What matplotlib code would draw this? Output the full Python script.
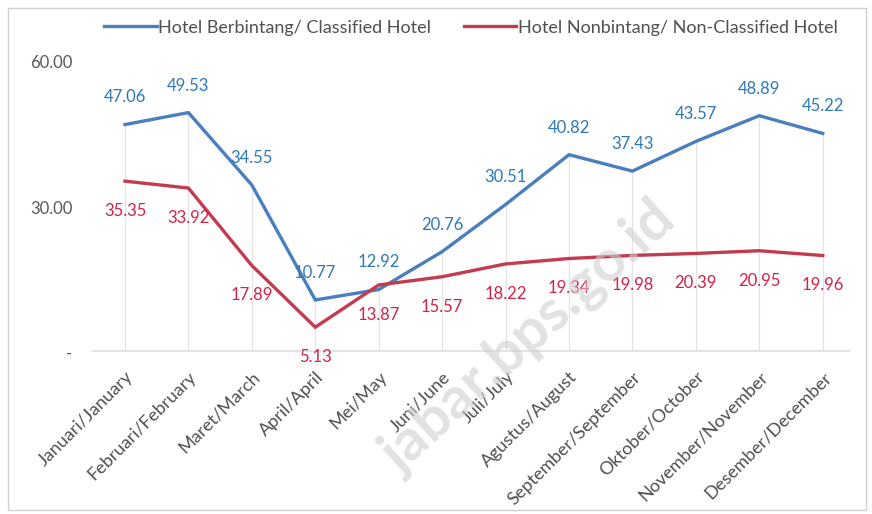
import matplotlib
matplotlib.use("Agg")
import matplotlib.pyplot as plt
from matplotlib.patches import Rectangle

plt.rcParams['font.family'] = ['Lato', 'DejaVu Sans']

months = ["Januari/January", "Februari/February", "Maret/March", "April/April",
          "Mei/May", "Juni/June", "Juli/July", "Agustus/August",
          "September/September", "Oktober/October", "November/November",
          "Desember/December"]
classified = [47.06, 49.53, 34.55, 10.77, 12.92, 20.76, 30.51, 40.82, 37.43, 43.57, 48.89, 45.22]
non_classified = [35.35, 33.92, 17.89, 5.13, 13.87, 15.57, 18.22, 19.34, 19.98, 20.39, 20.95, 19.96]
series_names = ["Hotel Berbintang/ Classified Hotel", "Hotel Nonbintang/ Non-Classified Hotel"]
yticks = [0, 30, 60]
ytick_labels = ["-", "30.00", "60.00"]

W, H = 872, 514
fig = plt.figure(figsize=(W / 100, H / 100), dpi=100)
fig.patch.set_facecolor("white")
fig.add_artist(Rectangle((8 / W, 4 / H), (W - 14) / W, (H - 12) / H, transform=fig.transFigure,
                         fill=False, edgecolor="#d0d0d0", linewidth=1.0))

# watermark
fig.text(528 / W, 1 - 338 / H, "jabar.bps.go.id", rotation=42, ha="center", va="center",
         fontsize=42, fontweight="bold", color="#cfcfcf", alpha=0.6, zorder=0)

ax = fig.add_axes([92 / W, 1 - 352 / H, (850 - 92) / W, (352 - 62) / H])
ax.patch.set_alpha(0)
x = list(range(len(months)))

blue_line = "#4a7ebf"
red_line = "#c23b4e"
blue_text = "#2e78b8"
red_text = "#d22346"

# faint drop lines
for xi, a, b in zip(x, classified, non_classified):
    ax.vlines(xi, 0, max(a, b), color="#e4e4e4", linewidth=0.9, zorder=1)

ax.plot(x, classified, color=blue_line, linewidth=2.4, label=series_names[0], zorder=3,
        solid_joinstyle="miter")
ax.plot(x, non_classified, color=red_line, linewidth=2.4, label=series_names[1], zorder=3,
        solid_joinstyle="miter")

for xi, v in zip(x, classified):
    ax.annotate(f"{v:.2f}", (xi, v), xytext=(0, 19.5), textcoords="offset points",
                ha="center", va="center", color=blue_text, fontsize=12, zorder=4)
for xi, v in zip(x, non_classified):
    ax.annotate(f"{v:.2f}", (xi, v), xytext=(0, -21.5), textcoords="offset points",
                ha="center", va="center", color=red_text, fontsize=12, zorder=4)

ax.set_xlim(-0.52, 11.43)
ax.set_ylim(0, 60)
ax.set_yticks(yticks)
ax.set_yticklabels(ytick_labels, color="#595959", fontsize=12)
ax.set_xticks(x)
ax.set_xticklabels(months, rotation=45, ha="right", rotation_mode="anchor",
                   color="#505050", fontsize=13)
ax.tick_params(axis="both", length=0)
ax.tick_params(axis="y", pad=14)
ax.tick_params(axis="x", pad=12)
for s in ax.spines.values():
    s.set_visible(False)
ax.axhline(0, color="#e4e4e4", linewidth=3, zorder=2)

leg = ax.legend(loc="lower center", bbox_to_anchor=(0.5, 1.035), ncol=2, frameon=False,
                fontsize=13, handlelength=2.9, handletextpad=0.1, columnspacing=1.8,
                labelcolor="#505050")

fig.savefig("out.png", dpi=100, facecolor="white")
